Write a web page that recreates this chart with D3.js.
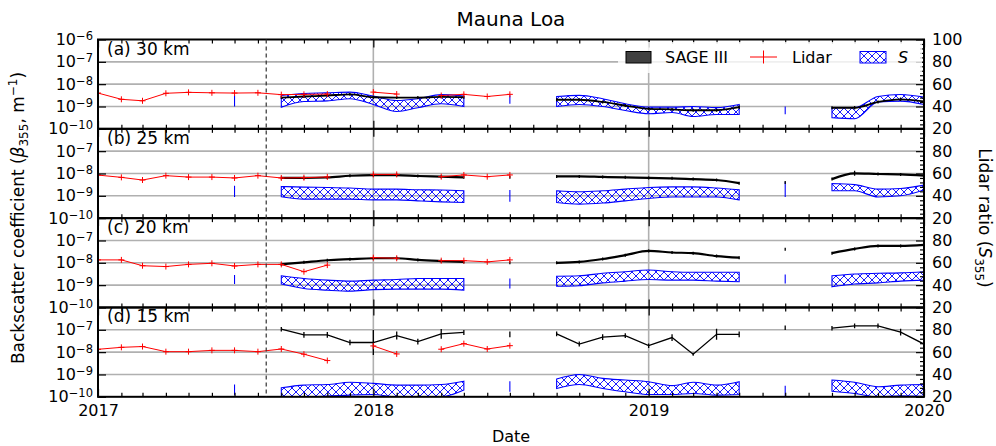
<!DOCTYPE html>
<html>
<head>
<meta charset="utf-8">
<script src="https://cdn.jsdelivr.net/npm/d3@7"></script>
<style>
body { margin: 0; background: #fff; }
svg { font-family: "DejaVu Sans", sans-serif; }
</style>
</head>
<body>
<svg id="chart" width="996" height="446"></svg>
<script>
// lidar monthly means (m^-1), null = no data
let lidarMonths = ["2017-01","2017-02","2017-03","2017-04","2017-05","2017-06","2017-07","2017-08","2017-09","2017-10","2017-11","2017-12","2018-01","2018-02","2018-03","2018-04","2018-05","2018-06","2018-07"]
let lidar30 = [4.0e-9, 2.1e-9, 1.8e-9, 3.9e-9, 4.3e-9, 4.1e-9, 4.0e-9, 4.1e-9, 3.4e-9, 3.5e-9, 3.6e-9, null, 4.4e-9, 3.6e-9, null, 3.1e-9, 3.5e-9, 2.8e-9, 3.5e-9]
let lidar25 = [8.5e-9, 6.7e-9, 5.1e-9, 8.0e-9, 6.9e-9, 6.9e-9, 6.3e-9, 8.0e-9, 6.3e-9, 6.5e-9, 7.0e-9, null, 9.1e-9, 9.1e-9, null, 7.2e-9, 8.6e-9, 7.2e-9, 8.6e-9]
let lidar20 = [1.35e-8, 1.35e-8, 7.4e-9, 6.8e-9, 8.5e-9, 9.5e-9, 7.2e-9, 8.5e-9, 8.5e-9, 4.0e-9, 7.9e-9, null, 1.7e-8, 1.6e-8, null, 1.25e-8, 1.25e-8, 1.1e-8, 1.35e-8]
let lidar15 = [1.34e-8, 1.64e-8, 1.78e-8, 1.05e-8, 1.05e-8, 1.2e-8, 1.2e-8, 1.05e-8, 1.38e-8, 8.1e-9, 4.2e-9, null, 1.9e-8, 8.3e-9, null, 1.35e-8, 2.4e-8, 1.38e-8, 1.95e-8]

// SAGE III months, also used for the lidar ratio S
let satMonths = ["2017-07","2017-08","2017-09","2017-10","2017-11","2017-12","2018-01","2018-02","2018-03","2018-04","2018-05","2018-06","2018-07","2018-08","2018-09","2018-10","2018-11","2018-12","2019-01","2019-02","2019-03","2019-04","2019-05","2019-06","2019-07","2019-08","2019-09","2019-10","2019-11","2019-12","2020-01"]
let sage30 = [null, null, 2.5e-9, 2.8e-9, 3.1e-9, 3.5e-9, 2.6e-9, 2.5e-9, 2.5e-9, 2.7e-9, 2.6e-9, null, null, null, 2.0e-9, 2.0e-9, 1.6e-9, 1.1e-9, 7.9e-10, 7.4e-10, 6.8e-10, 6.8e-10, 9.3e-10, null, null, null, 8.8e-10, 8.8e-10, 1.6e-9, 2.1e-9, 1.7e-9]
let sage25 = [null, null, 6.3e-9, 6.3e-9, 6.6e-9, 7.9e-9, 8.5e-9, 8.5e-9, 7.7e-9, 7.2e-9, 6.7e-9, null, 6.7e-9, null, 7.4e-9, 7.4e-9, 7.0e-9, 6.7e-9, 6.3e-9, 6.1e-9, 5.6e-9, 5.1e-9, 3.7e-9, null, 3.9e-9, null, 5.6e-9, 1.02e-8, 9.5e-9, 9.1e-9, 8.0e-9]
let sage20 = [null, null, 8.5e-9, 1.05e-8, 1.3e-8, 1.45e-8, 1.6e-8, 1.6e-8, 1.35e-8, 1.2e-8, 1.1e-8, null, 1.0e-8, null, 1.0e-8, 1.1e-8, 1.48e-8, 2.2e-8, 3.4e-8, 2.9e-8, 2.7e-8, 2.0e-8, 1.7e-8, null, 4.0e-8, null, 2.7e-8, 4.2e-8, 5.7e-8, 5.7e-8, 6.3e-8]
let sage15 = [null, null, 1.07e-7, 5.9e-8, 5.9e-8, 2.7e-8, 2.7e-8, 5.5e-8, 2.95e-8, 6.6e-8, 7.6e-8, null, 6.3e-8, null, 6.6e-8, 2.3e-8, 4.7e-8, 5.5e-8, 1.95e-8, 4.5e-8, 8.1e-9, 6.3e-8, 6.3e-8, null, 1.23e-7, null, 1.18e-7, 1.5e-7, 1.5e-7, 7.9e-8, 2.3e-8]
// SAGE III error, half width in decades
let sageErr30 = [0, 0, 0.05, 0.05, 0.05, 0.05, 0.05, 0.05, 0.05, 0.05, 0.05, 0, 0, 0, 0.05, 0.05, 0.05, 0.05, 0.05, 0.05, 0.05, 0.05, 0.08, 0, 0, 0, 0.05, 0.08, 0.05, 0.08, 0.05]
let sageErr25 = [0, 0, 0.05, 0.05, 0.05, 0.05, 0.05, 0.05, 0.05, 0.05, 0.05, 0, 0.05, 0, 0.05, 0.05, 0.05, 0.05, 0.05, 0.05, 0.05, 0.05, 0.05, 0, 0.05, 0, 0.05, 0.11, 0.05, 0.05, 0.05]
let sageErr20 = [0, 0, 0.05, 0.05, 0.05, 0.05, 0.05, 0.05, 0.05, 0.05, 0.05, 0, 0.05, 0, 0.05, 0.05, 0.05, 0.05, 0.05, 0.05, 0.05, 0.05, 0.05, 0, 0.05, 0, 0.05, 0.05, 0.05, 0.05, 0.05]
let sageErr15 = [0, 0, 0.1, 0.13, 0.13, 0.12, 0.56, 0.18, 0.13, 0.22, 0.11, 0, 0.13, 0, 0.11, 0.11, 0.13, 0.11, 0.1, 0.15, 0.05, 0.25, 0.13, 0, 0.1, 0, 0.1, 0.11, 0.11, 0.15, 0.1]

// lidar ratio S range (low / high)
let sLo30 = [40, null, 39.4, 44.5, 45, 47, 41.8, 35.5, 38.9, 42.5, 40, null, 42.5, null, 40, 41.8, 40, 36.4, 33.5, 34.6, 31, 32.8, 32.8, null, 33, null, 30, 29, 44, 44.8, 41.8]
let sHi30 = [50, null, 49.9, 51.7, 52.2, 52.9, 49.3, 45.4, 47, 50.6, 49.3, null, 50, null, 49, 50, 47, 42.5, 39.4, 39.4, 40, 39, 41.8, null, 40, null, 39, 39, 49, 50.8, 48.4]
let sLo25 = [39, null, 39.1, 37, 37, 37, 36.4, 36.4, 35.5, 34.6, 34, null, 34.6, null, 34, 32.6, 33.5, 35.5, 37.6, 39, 39, 39, 36.4, null, 39, null, 44.5, 44.5, 39, 40, 45.2]
let sHi25 = [49, null, 48.4, 47.8, 47.5, 47, 46, 46, 45.4, 45.2, 44.5, null, 45.2, null, 44.5, 43.6, 44.5, 46, 47.5, 48, 48, 47, 45.4, null, 52.6, null, 51, 50, 46, 46.6, 49.6]
let sLo20 = [41, null, 41, 37, 35.5, 34.6, 36, 36.4, 36.4, 36.4, 35.5, null, 37, null, 39, 39.5, 42, 43.6, 45, 44.5, 44.5, 43.6, 43, null, 41.5, null, 38.5, 41, 42, 43.6, 44.5]
let sHi20 = [49, null, 48.4, 46, 44.5, 43.6, 44.5, 45, 46, 46, 46, null, 46, null, 48, 48.4, 50.6, 52, 53.5, 52, 51.5, 51.5, 51.5, null, 49.6, null, 48.4, 50, 50.6, 51, 52]
let sLo15 = [21.5, null, 20, 20, 20.6, 21.5, 22, 20, 20, 20, 26, null, 24.5, null, 27.5, 31, 27.5, 24.5, 22, 22, 23, 21.5, 22, null, 20, null, 25, 23, 20, 21, 20.5]
let sHi15 = [31, null, 28.1, 30.5, 31, 33, 32, 30.5, 30.5, 31, 34, null, 34, null, 35.9, 40, 36.5, 35, 33.5, 30, 33, 30.5, 33.5, null, 30, null, 35, 33, 29, 30.5, 31]

let panelLabels = ["(a) 30 km", "(b) 25 km", "(c) 20 km", "(d) 15 km"]
let betaTicks = [1e-10, 1e-9, 1e-8, 1e-7, 1e-6]
let ratioTicks = [20, 40, 60, 80, 100]
let yearTicks = ["2017", "2018", "2019", "2020"]
let fireDate = "2017-08-12"

let parseMonth = d3.timeParse("%Y-%m")
let parseDay = d3.timeParse("%Y-%m-%d")
let parseYear = d3.timeParse("%Y")

var left = 98, right = 924, plotTop = 39.5, plotBottom = 396.8
var panelH = (plotBottom - plotTop) / 4

let panels = [
  { lidar: lidar30, sage: sage30, err: sageErr30, lo: sLo30, hi: sHi30, lw: 1.8 },
  { lidar: lidar25, sage: sage25, err: sageErr25, lo: sLo25, hi: sHi25, lw: 2.2 },
  { lidar: lidar20, sage: sage20, err: sageErr20, lo: sLo20, hi: sHi20, lw: 2.2 },
  { lidar: lidar15, sage: sage15, err: sageErr15, lo: sLo15, hi: sHi15, lw: 1.3 }
]

var svg = d3.select("#chart")
var x = d3.scaleTime().domain([parseYear("2017"), parseYear("2020")]).range([left, right])

// hatch for the S band
var defs = svg.append("defs")
var pat = defs.append("pattern").attr("id", "hatch")
  .attr("patternUnits", "userSpaceOnUse").attr("width", 8).attr("height", 8)
pat.append("path").attr("d", "M0,0L8,8M8,0L0,8M-1,7L1,9M7,-1L9,1M-1,1L1,-1M7,9L9,7")
  .attr("stroke", "#0000ff").attr("stroke-width", 0.9).attr("fill", "none")

function supLabel(sel, base, sup) {
  sel.text(null)
  sel.append("tspan").text(base)
  sel.append("tspan").attr("dy", "-0.45em").attr("font-size", "11.5px").text(sup)
}

panels.forEach(function (p, i) {
  var top = plotTop + i * panelH
  var bottom = top + panelH
  var y = d3.scaleLog().domain([1e-10, 1e-6]).range([bottom, top])
  var yS = d3.scaleLinear().domain([20, 100]).range([bottom, top])
  var g = svg.append("g")

  defs.append("clipPath").attr("id", "clip" + i)
    .append("rect").attr("x", left).attr("y", top).attr("width", right - left).attr("height", panelH)

  // grid
  g.selectAll(".hgrid").data([1e-9, 1e-8, 1e-7]).enter().append("line")
    .attr("x1", left).attr("x2", right)
    .attr("y1", d => y(d)).attr("y2", d => y(d))
    .attr("stroke", "#b0b0b0").attr("stroke-width", 1.6)
  g.selectAll(".vgrid").data(["2018", "2019"]).enter().append("line")
    .attr("x1", d => x(parseYear(d))).attr("x2", d => x(parseYear(d)))
    .attr("y1", top).attr("y2", bottom)
    .attr("stroke", "#b0b0b0").attr("stroke-width", 1.6)

  var body = g.append("g").attr("clip-path", "url(#clip" + i + ")")

  // lidar ratio band
  var sData = satMonths.map((m, k) => ({ date: parseMonth(m), lo: p.lo[k], hi: p.hi[k] }))
  var band = d3.area()
    .defined(d => d.lo != null)
    .x(d => x(d.date))
    .y0(d => yS(d.lo))
    .y1(d => yS(d.hi))
    .curve(d3.curveMonotoneX)
  body.append("path").datum(sData).attr("d", band)
    .attr("fill", "url(#hatch)").attr("stroke", "#0000ff").attr("stroke-width", 1.1)

  // SAGE III
  var sageData = satMonths.map((m, k) => ({ date: parseMonth(m), v: p.sage[k], e: p.err[k] }))
  var sageLine = d3.line()
    .defined(d => d.v != null)
    .x(d => x(d.date)).y(d => y(d.v))
    .curve(i < 3 ? d3.curveMonotoneX : d3.curveLinear)
  body.append("path").datum(sageData).attr("d", sageLine)
    .attr("fill", "none").attr("stroke", "#000").attr("stroke-width", p.lw)
  body.selectAll(".err").data(sageData.filter(d => d.v != null)).enter().append("line")
    .attr("x1", d => x(d.date)).attr("x2", d => x(d.date))
    .attr("y1", d => Math.min(y(d.v * Math.pow(10, d.e)), y(d.v) - 1.5))
    .attr("y2", d => Math.max(y(d.v / Math.pow(10, d.e)), y(d.v) + 1.5))
    .attr("stroke", "#000").attr("stroke-width", 1.3)

  // lidar
  var lidarData = lidarMonths.map((m, k) => ({ date: parseMonth(m), v: p.lidar[k] }))
  body.append("path").datum(lidarData)
    .attr("d", d3.line().defined(d => d.v != null).x(d => x(d.date)).y(d => y(d.v)))
    .attr("fill", "none").attr("stroke", "#ff0000").attr("stroke-width", 1)
  body.selectAll(".mark").data(lidarData.filter(d => d.v != null)).enter().append("path")
    .attr("d", d => {
      var cx = x(d.date), cy = y(d.v)
      return "M" + (cx - 3) + "," + cy + "H" + (cx + 3) + "M" + cx + "," + (cy - 3) + "V" + (cy + 3)
    })
    .attr("stroke", "#ff0000").attr("stroke-width", 1)

  // axes, ticks inward
  var yTicks = i == 0 ? betaTicks : betaTicks.slice(0, 4)
  var leftAxis = g.append("g").attr("transform", "translate(" + left + ",0)")
    .call(d3.axisLeft(y).tickValues(yTicks).tickSize(-8).tickSizeOuter(0).tickPadding(5))
  leftAxis.selectAll("text").each(function (d) {
    supLabel(d3.select(this), "10", "\u2212" + Math.round(-Math.log10(d)))
  })
  var rTicks = i == 0 ? ratioTicks : ratioTicks.slice(0, 4)
  var rightAxis = g.append("g").attr("transform", "translate(" + right + ",0)")
    .call(d3.axisRight(yS).tickValues(rTicks).tickSize(-8).tickSizeOuter(0).tickPadding(8))
  g.append("g").attr("transform", "translate(" + right + ",0)")
    .call(d3.axisRight(yS).tickValues(d3.range(24, 100, 4).filter(v => v % 20 != 0)).tickSize(-4).tickSizeOuter(0).tickFormat(""))

  var minor = d3.timeMonth.range(parseYear("2017"), parseYear("2020")).filter(d => d.getMonth() != 0)
  var years = yearTicks.map(parseYear)
  g.append("g").attr("transform", "translate(0," + bottom + ")")
    .call(d3.axisBottom(x).tickValues(minor).tickSize(-4).tickSizeOuter(0).tickFormat(""))
  g.append("g").attr("transform", "translate(0," + top + ")")
    .call(d3.axisTop(x).tickValues(minor).tickSize(-4).tickSizeOuter(0).tickFormat(""))
  var xb = g.append("g").attr("transform", "translate(0," + bottom + ")")
    .call(d3.axisBottom(x).tickValues(years).tickSize(-8).tickSizeOuter(0).tickPadding(8)
      .tickFormat(i == 3 ? d3.timeFormat("%Y") : ""))
  g.append("g").attr("transform", "translate(0," + top + ")")
    .call(d3.axisTop(x).tickValues(years).tickSize(-8).tickSizeOuter(0).tickFormat(""))

  g.selectAll(".domain").remove()
  g.selectAll(".tick line").attr("stroke-width", 1.2)
  g.selectAll(".tick text").attr("font-size", "16px").attr("fill", "#000")
    .attr("font-family", "DejaVu Sans")

  g.append("rect").attr("x", left).attr("y", top).attr("width", right - left).attr("height", panelH)
    .attr("fill", "none").attr("stroke", "#000").attr("stroke-width", 2)

  g.append("text").attr("x", left + 9).attr("y", top + 15)
    .attr("font-size", "17px").text(panelLabels[i])
})

// fire event marker
svg.append("line")
  .attr("x1", x(parseDay(fireDate))).attr("x2", x(parseDay(fireDate)))
  .attr("y1", plotTop).attr("y2", plotBottom)
  .attr("stroke", "#333").attr("stroke-width", 1.2).attr("stroke-dasharray", "4,3")

// legend
var lg = svg.append("g")
lg.append("rect").attr("x", 618).attr("y", 42).attr("width", 304).attr("height", 31)
  .attr("fill", "#fff").attr("fill-opacity", 0.8)
lg.append("rect").attr("x", 626).attr("y", 51.5).attr("width", 25).attr("height", 11.5)
  .attr("fill", "#404040").attr("stroke", "#000").attr("stroke-width", 1)
lg.append("text").attr("x", 665).attr("y", 63).attr("font-size", "16px").text("SAGE III")
lg.append("path").attr("d", "M750,57H777M763.5,50.5V63.5").attr("stroke", "#ff0000").attr("stroke-width", 1)
lg.append("text").attr("x", 792).attr("y", 63).attr("font-size", "16px").text("Lidar")
lg.append("rect").attr("x", 860).attr("y", 51.5).attr("width", 26).attr("height", 11.5)
  .attr("fill", "url(#hatch)").attr("stroke", "#0000ff").attr("stroke-width", 1)
lg.append("text").attr("x", 898).attr("y", 63).attr("font-size", "16px")
  .attr("font-style", "italic").text("S")

// titles
svg.append("text").attr("x", 511).attr("y", 26).attr("text-anchor", "middle")
  .attr("font-size", "20px").text("Mauna Loa")
svg.append("text").attr("x", 511).attr("y", 442).attr("text-anchor", "middle")
  .attr("font-size", "16px").text("Date")

var yl = svg.append("text").attr("transform", "translate(24,218) rotate(-90)")
  .attr("text-anchor", "middle").attr("font-size", "17px")
yl.append("tspan").text("Backscatter coefficient (")
yl.append("tspan").attr("font-style", "italic").text("\u03b2")
yl.append("tspan").attr("dy", 4).attr("font-size", "12px").text("355")
yl.append("tspan").attr("dy", -4).text(", m")
yl.append("tspan").attr("dy", -7).attr("font-size", "12px").text("\u22121")
yl.append("tspan").attr("dy", 7).text(")")

var yr = svg.append("text").attr("transform", "translate(979,218) rotate(90)")
  .attr("text-anchor", "middle").attr("font-size", "17px")
yr.append("tspan").text("Lidar ratio (")
yr.append("tspan").attr("font-style", "italic").text("S")
yr.append("tspan").attr("dy", 4).attr("font-size", "12px").text("355")
yr.append("tspan").attr("dy", -4).text(")")
</script>
</body>
</html>
